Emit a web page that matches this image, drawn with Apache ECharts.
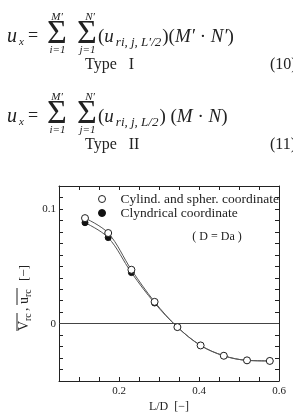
<!DOCTYPE html>
<html><head><meta charset="utf-8">
<script src="https://cdn.jsdelivr.net/npm/echarts@6/dist/echarts.min.js"></script>
<style>html,body{margin:0;padding:0;background:#fff}#c{width:293px;height:414px}</style>
</head><body><div id="c"></div>
<script>
// ---- data ----
const ldRatio = [0.115, 0.173, 0.231, 0.289, 0.346, 0.404, 0.462, 0.520, 0.577];
const cylSpher = [0.092, 0.079, 0.047, 0.019, -0.003, -0.019, -0.028, -0.032, -0.0325];
const cylindrical = [0.088, 0.075, 0.0445, 0.018, -0.003, -0.019, -0.028, -0.032, -0.0325];
const seriesNames = ['Cylind. and spher. coordinate', 'Clyndrical coordinate'];
const xTickLabels = [0.2, 0.4, 0.6];
const yTickLabels = [0, 0.1];

const SERIF = "'Liberation Serif','DejaVu Serif',serif";
const near = (v, arr) => arr.find(t => Math.abs(v - t) < 1e-6);

function txt(x, y, text, size, opts) {
  opts = opts || {};
  return {
    type: 'text', x: x, y: y, silent: true,
    style: Object.assign({
      text: text, fontSize: size, fontFamily: SERIF, fill: '#222',
      textAlign: opts.align || 'left', textVerticalAlign: 'middle',
      fontStyle: opts.italic ? 'italic' : 'normal'
    }, opts.rich ? { rich: opts.rich } : {})
  };
}

const richEq = {
  n: { fontSize: 19, fontFamily: SERIF, fill: '#222' },
  i: { fontSize: 19, fontFamily: SERIF, fontStyle: 'italic', fill: '#222' },
  s: { fontSize: 13, fontFamily: SERIF, fontStyle: 'italic', fill: '#222', padding: [11, 1, 0, 2] }
};

function equation(dy, sub, tail, type, num) {
  return [
    txt(7, 37 + dy, 'u', 20, { italic: true }),
    txt(19, 42 + dy, 'x', 11, { italic: true }),
    txt(28, 36 + dy, '=', 18),
    txt(57, 34 + dy, 'Σ', 34, { align: 'center' }),
    txt(57, 17 + dy, 'M′', 11, { italic: true, align: 'center' }),
    txt(57.5, 50 + dy, 'i=1', 11, { italic: true, align: 'center' }),
    txt(87, 34 + dy, 'Σ', 34, { align: 'center' }),
    txt(90, 17 + dy, 'N′', 11, { italic: true, align: 'center' }),
    txt(87.5, 50 + dy, 'j=1', 11, { italic: true, align: 'center' }),
    txt(98, 37 + dy, '{n|(}{i|u}{s|' + sub + '}' + tail, 19, { rich: richEq }),
    txt(85, 65 + dy, type, 16),
    txt(270, 65 + dy, num, 16)
  ];
}

// y-axis name with overlines (rotated group)
const yName = {
  type: 'group', x: 31, y: 331, rotation: Math.PI / 2, silent: true,
  children: [
    { type: 'text', x: 0, y: 0, style: { text: 'V', fontSize: 14, fontFamily: SERIF, fill: '#222', textVerticalAlign: 'bottom' } },
    { type: 'text', x: 10, y: 2, style: { text: 'rc', fontSize: 10, fontFamily: SERIF, fill: '#222', textVerticalAlign: 'bottom' } },
    { type: 'text', x: 20, y: 0, style: { text: ',', fontSize: 14, fontFamily: SERIF, fill: '#222', textVerticalAlign: 'bottom' } },
    { type: 'text', x: 27, y: 0, style: { text: 'u', fontSize: 14, fontFamily: SERIF, fill: '#222', textVerticalAlign: 'bottom' } },
    { type: 'text', x: 34, y: 2, style: { text: 'rc', fontSize: 10, fontFamily: SERIF, fill: '#222', textVerticalAlign: 'bottom' } },
    { type: 'text', x: 50, y: 0, style: { text: '[−]', fontSize: 13, fontFamily: SERIF, fill: '#222', textVerticalAlign: 'bottom' } },
    { type: 'line', shape: { x1: 0, y1: -14, x2: 18, y2: -14 }, style: { stroke: '#222', lineWidth: 1 } },
    { type: 'line', shape: { x1: 26, y1: -14, x2: 43, y2: -14 }, style: { stroke: '#222', lineWidth: 1 } }
  ]
};

const chart = echarts.init(document.getElementById('c'), null, { renderer: 'canvas' });

const axisCommon = {
  type: 'value',
  axisLine: { show: true, onZero: false, lineStyle: { color: '#222', width: 1 } },
  axisTick: { show: true, inside: true, length: 4, lineStyle: { color: '#222' } },
  splitLine: { show: false }
};

chart.setOption({
  animation: false,
  backgroundColor: '#fff',
  grid: { left: 59, top: 186, right: 14, bottom: 31, containLabel: false },
  xAxis: [
    Object.assign({}, axisCommon, {
      min: 0.05, max: 0.6, interval: 0.05, position: 'bottom',
      axisLabel: {
        fontFamily: SERIF, fontSize: 11, color: '#222', margin: 5,
        formatter: v => { const t = near(v, xTickLabels); return t !== undefined ? t.toFixed(1) : ''; }
      },
      name: 'L/D  [−]', nameLocation: 'middle', nameGap: 20,
      nameTextStyle: { fontFamily: SERIF, fontSize: 12, color: '#222' }
    }),
    Object.assign({}, axisCommon, {
      min: 0.05, max: 0.6, interval: 0.05, position: 'top',
      axisLabel: { show: false }
    })
  ],
  yAxis: [
    Object.assign({}, axisCommon, {
      min: -0.05, max: 0.12, interval: 0.01, position: 'left',
      axisLabel: {
        fontFamily: SERIF, fontSize: 11, color: '#222', margin: 3,
        formatter: v => { const t = near(v, yTickLabels); return t !== undefined ? String(t) : ''; }
      }
    }),
    Object.assign({}, axisCommon, {
      min: -0.05, max: 0.12, interval: 0.01, position: 'right',
      axisLabel: { show: false }
    })
  ],
  legend: {
    orient: 'vertical', left: 98, top: 192, itemWidth: 27, itemHeight: 7, itemGap: 0,
    padding: 0,
    textStyle: { fontFamily: SERIF, fontSize: 13.5, color: '#222', lineHeight: 12 },
    data: [
      { name: seriesNames[0], icon: 'circle', itemStyle: { color: '#fff', borderColor: '#222', borderWidth: 1 } },
      { name: seriesNames[1], icon: 'circle', itemStyle: { color: '#111', borderColor: '#111', borderWidth: 1 } }
    ]
  },
  series: [
    {
      name: seriesNames[1], type: 'line', smooth: 0.35,
      data: ldRatio.map((x, i) => [x, cylindrical[i]]),
      symbol: 'circle', symbolSize: 6,
      itemStyle: { color: '#111', borderColor: '#111' },
      lineStyle: { color: '#555', width: 1 },
      z: 2,
      markLine: {
        silent: true, symbol: 'none', label: { show: false },
        lineStyle: { color: '#444', width: 1, type: 'solid' },
        data: [{ yAxis: 0 }]
      }
    },
    {
      name: seriesNames[0], type: 'line', smooth: 0.35,
      data: ldRatio.map((x, i) => [x, cylSpher[i]]),
      symbol: 'circle', symbolSize: 7,
      itemStyle: { color: '#fff', borderColor: '#222', borderWidth: 1 },
      lineStyle: { color: '#555', width: 1 },
      z: 3
    }
  ],
  graphic: [].concat(
    equation(0, 'ri, j, L′/2', '{n|)(}{i|M′}{n| · }{i|N′}{n|)}', 'Type   I', '(10)'),
    equation(80, 'ri, j, L/2', '{n|) (}{i|M}{n| · }{i|N}{n|)}', 'Type   II', '(11)'),
    [
      txt(217, 237, '( D = Da )', 12, { align: 'center' }),
      yName
    ]
  )
});
</script>
</body></html>
